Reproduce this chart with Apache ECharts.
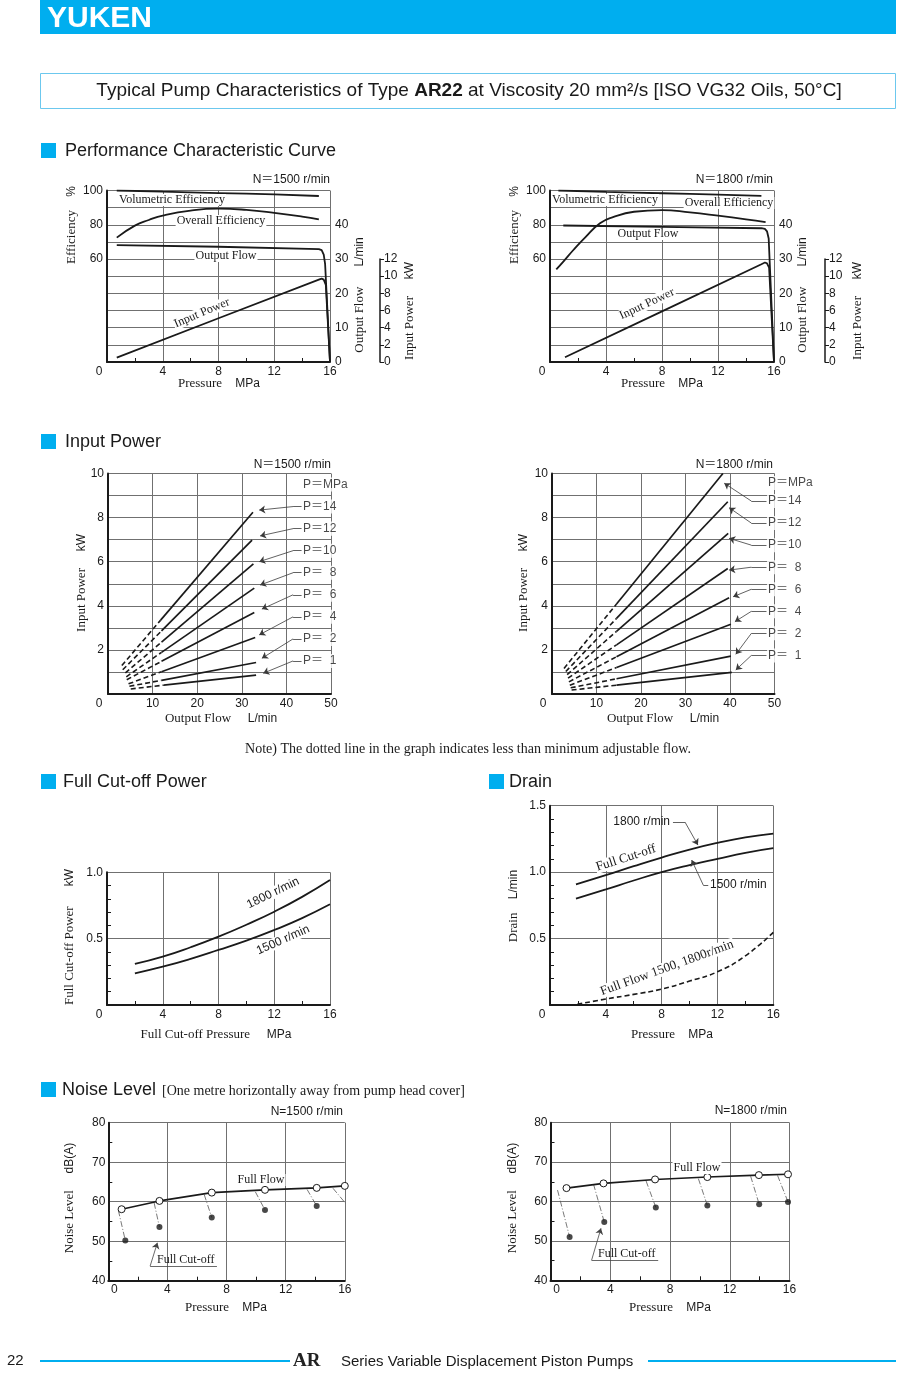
<!DOCTYPE html>
<html><head><meta charset="utf-8">
<script src="https://cdn.jsdelivr.net/npm/echarts@6/dist/echarts.min.js"></script>
<style>html,body{margin:0;padding:0;background:#fff}#c{width:900px;height:1379px}</style>
</head><body><div id="c"></div>
<script>
// ===================== DATA =====================
// Performance characteristic curves: [pressure MPa, value]
const volEff1500 = [[0.7,100],[4,99.3],[8,98.5],[12,97.7],[15.2,96.8]];
const ovEff1500  = [[0.7,72.5],[2,79.5],[3,82.8],[4,85.4],[6,88.3],[8,89.4],[10,88.7],[12,87],[14,84.8],[15.2,83.1]];
const flow1500   = [[0.7,34.1],[8,33.6],[15.2,32.9],[15.4,32.6],[15.55,31.3],[15.65,28.5],[16,0]];
const power1500  = [[0.7,0.5],[8,5.1],[15.2,9.6],[15.4,9.72],[15.55,9.6],[15.7,9.0],[16,0]];
const volEff1800 = [[0.6,100],[4,99.2],[8,98.4],[12,97.6],[15.1,96.9]];
const ovEff1800  = [[0.45,54],[1,59],[1.67,65.3],[2.5,72.5],[3.57,80.9],[4.5,84.5],[6,87.6],[8,88.6],[10,87.2],[12,85.3],[14,83.2],[15.4,81.6]];
const flow1800   = [[0.95,39.8],[8,39.4],[15.1,39.0],[15.35,38.8],[15.5,38.1],[15.62,36],[16,0]];
const power1800  = [[1.07,0.55],[8,5.9],[15.1,11.4],[15.35,11.6],[15.5,11.5],[15.65,11.0],[16,0]];

// Input power vs output flow, one line per pressure: [L/min, kW]
const ipPressureLabels = ['P\uFF1D14','P\uFF1D12','P\uFF1D10','P\uFF1D\u20078','P\uFF1D\u20076','P\uFF1D\u20074','P\uFF1D\u20072','P\uFF1D\u20071'];
const ip1500Start = [[3.1,1.29],[3.3,1.10],[3.9,0.96],[4.1,0.78],[4.2,0.65],[4.6,0.46],[4.8,0.35],[5.1,0.23]];
const ip1500Break = [[11.8,3.35],[12,2.86],[12,2.35],[12,1.89],[12,1.48],[12,1.01],[12,0.62],[12.5,0.40]];
const ip1500End   = [[32.5,8.24],[32.3,6.98],[32.6,5.9],[32.8,4.8],[32.8,3.7],[33,2.56],[33.2,1.43],[33.2,0.86]];
const ip1500LabelY = [8.5,7.5,6.5,5.5,4.5,3.5,2.5,1.5];
const ip1500Tips   = [[33.9,8.34],[34.1,7.17],[33.9,6.0],[34.1,4.94],[34.5,3.85],[33.9,2.68],[34.5,1.62],[34.8,0.94]];
const ip1800Start = [[2.7,1.16],[3.1,1.02],[3.4,0.88],[3.6,0.72],[3.8,0.55],[4.0,0.40],[4.2,0.28],[4.4,0.18]];
const ip1800Break = [[14.5,4.08],[14.5,3.43],[14.5,2.84],[14.5,2.23],[14.5,1.69],[14.5,1.20],[14.5,0.69],[14.5,0.40]];
const ip1800End   = [[38.4,10.0],[39.5,8.72],[39.6,7.28],[39.5,5.69],[39.8,4.37],[40.2,3.16],[40.2,1.72],[40.4,0.98]];
const ip1800LabelY = [8.75,7.75,6.75,5.75,4.75,3.75,2.75,1.75];
const ip1800Tips   = [[38.7,9.56],[39.8,8.45],[39.8,7.06],[39.8,5.62],[40.7,4.41],[41.1,3.28],[41.3,1.8],[41.3,1.09]];

// Full cut-off power: [MPa, kW]
const cutoff1800 = [[2,0.309],[4,0.364],[6,0.435],[8,0.515],[10,0.605],[12,0.703],[14,0.815],[16,0.942]];
const cutoff1500 = [[2,0.239],[4,0.289],[6,0.348],[8,0.415],[10,0.485],[12,0.565],[14,0.655],[16,0.759]];

// Drain: [MPa, L/min]
const drain1800 = [[1.86,0.908],[4,0.977],[6,1.045],[8,1.11],[10,1.17],[12,1.22],[14,1.262],[16,1.29]];
const drain1500 = [[1.86,0.80],[4,0.87],[6,0.937],[8,1.0],[10,1.053],[12,1.10],[14,1.145],[16,1.18]];
const drainFullFlow = [[1.96,0.005],[4,0.045],[6,0.08],[8,0.12],[10,0.18],[12,0.25],[14,0.37],[16,0.547]];

// Noise level: [MPa, dB(A)]
const noise1500Full = [[0.9,58.1],[3.46,60.2],[7.0,62.3],[10.6,63.0],[14.1,63.5],[16,64.0]];
const noise1500Cut  = [[1.15,50.2],[3.46,53.6],[7.0,56.0],[10.6,57.9],[14.1,58.9],[16.05,59.6]];
const noise1500LeaderFrom = [[0.68,57.8],[3.1,59.7],[6.49,61.8],[9.95,62.5],[13.45,63.1],[15.2,63.4]];
const noise1800Full = [[1.07,63.4],[3.55,64.6],[7.0,65.6],[10.5,66.2],[13.95,66.7],[15.9,66.9]];
const noise1800Cut  = [[1.28,51.0],[3.6,54.8],[7.05,58.5],[10.5,59.0],[13.97,59.3],[15.9,59.9]];
const noise1800LeaderFrom = [[0.47,62.9],[2.88,64.4],[6.4,65.2],[9.9,65.8],[13.4,66.4],[15.2,66.6]];

// ===================== STYLE =====================
const SANS = '"Liberation Sans", Arial, "Noto Sans CJK JP", sans-serif';
const SERIF = '"Liberation Serif", "Times New Roman", serif';
const INK = '#1a1a1a';
const GRIDC = '#707070';
const CYAN = '#00AEEF';
const TICKFS = 12;

const grids = [
  {left:107, top:190.5, width:223, height:171.5},   // 0 perf 1500
  {left:550, top:190.5, width:224, height:171.5},   // 1 perf 1800
  {left:379, top:259, width:1, height:103},         // 2 power scale 1500
  {left:824, top:259, width:1, height:103},         // 3 power scale 1800
  {left:108, top:473.5, width:223, height:220.5},   // 4 input power 1500
  {left:552, top:473.5, width:222.5, height:220.5}, // 5 input power 1800
  {left:107, top:872.3, width:223, height:132.7},   // 6 full cut-off power
  {left:550, top:805.7, width:223.3, height:199.3}, // 7 drain
  {left:108.3, top:1122.7, width:236.5, height:158},// 8 noise 1500
  {left:550.5, top:1122.7, width:239, height:157.6} // 9 noise 1800
].map(g => Object.assign({containLabel:false, outerBoundsMode:'none'}, g));

function xAx(grid, min, max, interval, o={}) {
  return {type:'value', gridIndex:grid, min, max, interval,
    axisLine:{show:true, onZero:false, lineStyle:{color:INK, width:2}},
    axisTick:{show:false, inside:true},
    minorTick:{show:!!o.minor, splitNumber:o.minor||2, length:4, lineStyle:{color:INK, width:1}},
    splitLine:{show:true, lineStyle:{color:GRIDC, width:1}},
    minorSplitLine:{show:false},
    axisLabel:{margin:o.margin==null?5:o.margin, fontSize:TICKFS, fontFamily:SANS, color:INK,
      showMinLabel:true, showMaxLabel:true, hideOverlap:false,
      formatter: v => v === 0 ? '{z|0}' : String(v),
      rich:{z:{fontSize:TICKFS, fontFamily:SANS, color:INK, padding:o.zeroPad||[0,16,0,0]}}}};
}
function hiddenX(grid){ return {type:'value', gridIndex:grid, min:0, max:1, show:false}; }
function yAx(grid, min, max, interval, o={}) {
  return {type:'value', gridIndex:grid, min, max, interval, position:o.pos||'left', show:o.show!==false,
    axisLine:{show:o.line!==false, onZero:false, lineStyle:{color:INK, width:o.lw||2}},
    axisTick:{show:!!o.ticks, inside:!o.ticks, length:4, lineStyle:{color:INK, width:1}},
    minorTick:{show:!!o.minor, splitNumber:o.minor||5, length:4, lineStyle:{color:INK, width:1}},
    splitLine:{show:o.split!==false, lineStyle:{color:GRIDC, width:1}},
    minorSplitLine:{show:false},
    axisLabel:{show:o.labels!==false, margin:o.margin==null?4:o.margin, fontSize:TICKFS, fontFamily:SANS, color:INK,
      showMinLabel:true, showMaxLabel:true, hideOverlap:false, formatter:o.fmt||(v=>String(v))}};
}
const effFmt = v => (v >= 60 && v % 20 === 0) ? String(v) : '';
const flowFmt = v => (v % 10 === 0 && v < 50) ? String(v) : '';
const ipFmt = v => (v > 0 && v % 2 === 0) ? String(v) : '';
const decFmt = v => v === 0 ? '' : v.toFixed(1);

const xAxis = [
  xAx(0,0,16,4,{minor:2, margin:4}), xAx(1,0,16,4,{minor:2, margin:4}),
  hiddenX(2), hiddenX(3),
  xAx(4,0,50,10,{zeroPad:[0,18,0,0], margin:4}), xAx(5,0,50,10,{zeroPad:[0,18,0,0], margin:4}),
  xAx(6,0,16,4,{minor:2, margin:4}), xAx(7,0,16,4,{minor:2, margin:4}),
  xAx(8,0,16,4,{minor:2, margin:3, zeroPad:[0,0,0,12]}), xAx(9,0,16,4,{minor:2, margin:3, zeroPad:[0,0,0,12]})
];
const yAxis = [
  yAx(0,0,100,10,{fmt:effFmt}),                                        // 0
  yAx(0,0,50,5,{pos:'right', line:false, split:false, fmt:flowFmt, margin:5}), // 1
  yAx(0,0,20,2,{show:false, split:false}),                             // 2
  yAx(1,0,100,10,{fmt:effFmt}),                                        // 3
  yAx(1,0,50,5,{pos:'right', line:false, split:false, fmt:flowFmt, margin:5}), // 4
  yAx(1,0,20,2,{show:false, split:false}),                             // 5
  yAx(2,0,12,2,{pos:'right', split:false, lw:1.5, ticks:true, margin:4}), // 6
  yAx(3,0,12,2,{pos:'right', split:false, lw:1.5, ticks:true, margin:4}), // 7
  yAx(4,0,10,1,{fmt:ipFmt}),                                           // 8
  yAx(5,0,10,1,{fmt:ipFmt}),                                           // 9
  yAx(6,0,1,0.5,{minor:5, fmt:decFmt}),                                // 10
  yAx(7,0,1.5,0.5,{minor:5, fmt:decFmt}),                              // 11
  yAx(8,40,80,10,{minor:2, margin:3}),                                 // 12
  yAx(9,40,80,10,{minor:2, margin:3})                                  // 13
];

// ===================== SERIES =====================
const series = [];
function line(xi, yi, data, o={}) {
  series.push({type:'line', xAxisIndex:xi, yAxisIndex:yi, data, symbol:'none', smooth:o.smooth||false,
    lineStyle:{color:INK, width:o.w||1.8, type:o.type||'solid'}, z:o.z||3, silent:true, animation:false});
}
function segs(xi, yi, list, arrow, o={}) {
  series.push({type:'lines', coordinateSystem:'cartesian2d', xAxisIndex:xi, yAxisIndex:yi,
    data:list.map(c => ({coords:c})), polyline:false,
    symbol: arrow ? ['none','arrow'] : ['none','none'], symbolSize: arrow ? [0, o.as||6] : 0,
    lineStyle:{color:o.color||'#3a3a3a', width:o.w||0.8, type:o.type||'solid', opacity:1, curveness:0},
    effect:{show:false}, z:o.z||4, silent:true, animation:false});
}
function labels(xi, yi, items, o={}) {
  series.push({type:'scatter', xAxisIndex:xi, yAxisIndex:yi,
    data: items.map(([x,y,t]) => ({value:[x,y], label:{formatter:t}})),
    symbolSize:1, itemStyle:{color:'rgba(0,0,0,0)'},
    label:{show:true, position:'right', distance:0, fontSize:12, fontFamily:SANS, color:INK,
      backgroundColor:'#fff', padding:[1,2,1,1]}, z:8, silent:true, animation:false});
}

// Performance
line(0,0,volEff1500,{smooth:true}); line(0,0,ovEff1500,{smooth:true});
line(0,1,flow1500); line(0,2,power1500);
line(1,3,volEff1800,{smooth:true}); line(1,3,ovEff1800,{smooth:true});
line(1,4,flow1800); line(1,5,power1800);

// Input power
function ipChart(xi, yi, st, br, en, labY, tips, labX, elbowX, mpaY) {
  for (let i = 0; i < st.length; i++) {
    line(xi, yi, [st[i], br[i]], {type:[5,3], w:1.6});
    line(xi, yi, [br[i], en[i]], {w:1.7});
  }
  segs(xi, yi, labY.map(y => [[labX, y], [elbowX, y]]), false);
  segs(xi, yi, labY.map((y, i) => [[elbowX, y], tips[i]]), true);
  labels(xi, yi, [[labX, mpaY, 'P\uFF1DMPa']].concat(labY.map((y, i) => [labX, y, ipPressureLabels[i]])));
}
ipChart(4, 8, ip1500Start, ip1500Break, ip1500End, ip1500LabelY, ip1500Tips, 43.4, 41.5, 9.5);
ipChart(5, 9, ip1800Start, ip1800Break, ip1800End, ip1800LabelY, ip1800Tips, 48.2, 44.8, 9.57);

// Full cut-off power
line(6,10,cutoff1800,{smooth:true}); line(6,10,cutoff1500,{smooth:true});

// Drain
line(7,11,drain1800,{smooth:true}); line(7,11,drain1500,{smooth:true});
line(7,11,drainFullFlow,{smooth:true, type:[5,3], w:1.6});
segs(7,11,[[[8.81,1.377],[9.67,1.377]], [[11.34,0.903],[10.98,0.903]]], false);
segs(7,11,[[[9.67,1.377],[10.6,1.204]], [[10.98,0.903],[10.15,1.091]]], true);

// Noise
function noiseChart(xi, yi, full, cut, from, under, tip) {
  segs(xi, yi, from.map((f, i) => [f, cut[i]]), false, {type:[6,2,1,2], color:'#555', w:0.8, z:3});
  series.push({type:'line', xAxisIndex:xi, yAxisIndex:yi, data:full, symbol:'circle', symbolSize:7,
    itemStyle:{color:'#fff', borderColor:INK, borderWidth:1}, lineStyle:{color:INK, width:1.6}, z:5, silent:true, animation:false});
  series.push({type:'scatter', xAxisIndex:xi, yAxisIndex:yi, data:cut, symbol:'circle', symbolSize:6,
    itemStyle:{color:INK}, z:6, silent:true, animation:false});
  segs(xi, yi, [under], false, {color:'#444'});
  segs(xi, yi, [[under[0], tip]], true, {color:'#444'});
}
noiseChart(8, 12, noise1500Full, noise1500Cut, noise1500LeaderFrom, [[2.83,43.7],[7.35,43.7]], [3.32,49.6]);
noiseChart(9, 13, noise1800Full, noise1800Cut, noise1800LeaderFrom, [[2.75,45.1],[7.21,45.1]], [3.38,53.2]);

// ===================== GRAPHIC TEXT / DECORATION =====================
const G = [];
const rect = (x,y,w,h,fill,stroke) => G.push({type:'rect', shape:{x,y,width:w,height:h}, z:90, silent:true,
  style:{fill:fill||'none', stroke:stroke||'none', lineWidth:1}});
const hline = (x1,x2,y,color,w) => G.push({type:'line', shape:{x1,y1:y,x2,y2:y}, z:90, silent:true, style:{stroke:color, lineWidth:w}});
function text(x, y, t, o={}) {
  G.push({type:'text', x, y, rotation:(o.rot||0)*Math.PI/180, z:100, silent:true,
    style:{text:t, fill:o.color||INK, fontSize:o.size||12, fontFamily:o.family||SANS, fontWeight:o.weight||'normal',
      textAlign:o.align||'left', textVerticalAlign:'middle', backgroundColor:o.bg, padding:o.pad, rich:o.rich}});
}
const TR = {a:{fontFamily:SERIF, fontSize:13, fill:INK}, g:{fontFamily:SANS, fontSize:12}, b:{fontFamily:SANS, fontSize:12, fill:INK}};
const title = (x, y, main, unit, gap, rot) => text(x, y, `{a|${main}}{g|${' '.repeat(gap)}}{b|${unit}}`, {align:'center', rot:rot||0, rich:TR});
const note = (x, y, t, o={}) => text(x, y, t, Object.assign({family:SERIF, size:12, align:'center', bg:'#fff', pad:[0,1]}, o));

// header
rect(40, 0, 856, 34, CYAN);
text(47, 19, 'YUKEN', {size:30, weight:'bold', color:'#fff'});
rect(40.5, 73.5, 855, 35, null, '#6CC8EE');
text(469, 91, '{n|Typical Pump Characteristics of Type }{b|AR22}{n| at Viscosity 20 mm\u00B2/s [ISO VG32 Oils, 50\u00B0C]}',
  {align:'center', rich:{n:{fontFamily:SANS, fontSize:19, fill:INK}, b:{fontFamily:SANS, fontSize:19, fontWeight:'bold', fill:INK}}});

// section headers
const section = (sx, sy, tx, t) => { rect(sx, sy, 15, 15, CYAN); text(tx, sy + 8, t, {size:18}); };
section(41, 143, 65, 'Performance Characteristic Curve');
section(41, 434, 65, 'Input Power');
section(41, 774, 63, 'Full Cut-off Power');
section(489, 774, 509, 'Drain');
section(41, 1082, 62, 'Noise Level');
text(162, 1091, '[One metre horizontally away from pump head cover]', {family:SERIF, size:14});

// performance 1500
text(330, 180, 'N\uFF1D1500 r/min', {align:'right', size:12});
note(172, 200, 'Volumetric Efficiency');
note(221, 221, 'Overall Efficiency');
note(226, 256, 'Output Flow');
note(202, 313, 'Input Power', {rot:23});
title(72, 225, 'Efficiency', '%', 4, 90);
title(360, 295, 'Output Flow', 'L/min', 6, 90);
title(410, 311, 'Input Power', 'kW', 5, 90);
title(219, 384, 'Pressure', 'MPa', 4);
// performance 1800
text(773, 180, 'N\uFF1D1800 r/min', {align:'right', size:12});
note(605, 200, 'Volumetric Efficiency');
note(729, 203, 'Overall Efficiency');
note(648, 234, 'Output Flow');
note(647, 304, 'Input Power', {rot:25});
title(515, 225, 'Efficiency', '%', 4, 90);
title(803, 295, 'Output Flow', 'L/min', 6, 90);
title(858, 311, 'Input Power', 'kW', 5, 90);
title(662, 384, 'Pressure', 'MPa', 4);

// input power
text(331, 465, 'N\uFF1D1500 r/min', {align:'right', size:12});
text(773, 465, 'N\uFF1D1800 r/min', {align:'right', size:12});
title(82, 583, 'Input Power', 'kW', 5, 90);
title(524, 583, 'Input Power', 'kW', 5, 90);
title(221, 719, 'Output Flow', 'L/min', 5);
title(663, 719, 'Output Flow', 'L/min', 5);
text(468, 749, 'Note) The dotted line in the graph indicates less than minimum adjustable flow.', {family:SERIF, size:14, align:'center'});

// full cut-off power
title(70, 937, 'Full Cut-off Power', 'kW', 6, 90);
title(216, 1035, 'Full Cut-off Pressure', 'MPa', 5);
text(273, 893, '1800 r/min', {align:'center', rot:26, bg:'#fff', pad:[0,1]});
text(283, 940, '1500 r/min', {align:'center', rot:24, bg:'#fff', pad:[0,1]});

// drain
title(514, 906, 'Drain', 'L/min', 4, 90);
title(672, 1035, 'Pressure', 'MPa', 4);
text(670, 822, '1800 r/min', {align:'right'});
text(710, 885, '1500 r/min');
note(626, 858, 'Full Cut-off', {rot:18, size:13});
note(667, 968, 'Full Flow 1500, 1800r/min', {rot:20, size:13});

// noise
text(343, 1112, 'N=1500 r/min', {align:'right', size:12});
text(787, 1111, 'N=1800 r/min', {align:'right', size:12});
title(70, 1198, 'Noise Level', 'dB(A)', 5, 90);
title(513, 1198, 'Noise Level', 'dB(A)', 5, 90);
title(226, 1308, 'Pressure', 'MPa', 4);
title(670, 1308, 'Pressure', 'MPa', 4);
note(261, 1180, 'Full Flow');
note(697, 1168, 'Full Flow');
text(157, 1260, 'Full Cut-off', {family:SERIF, size:12});
text(598, 1254, 'Full Cut-off', {family:SERIF, size:12});

// footer
text(7, 1361, '22', {size:15});
hline(40, 290, 1361, CYAN, 2);
hline(648, 896, 1361, CYAN, 2);
text(293, 1361, 'AR', {family:SERIF, size:19, weight:'bold', color:'#222'});
text(341, 1362, 'Series Variable Displacement Piston Pumps', {size:15});

// ===================== RENDER =====================
const chart = echarts.init(document.getElementById('c'), null, {renderer:'canvas'});
chart.setOption({
  animation:false, backgroundColor:'#fff',
  textStyle:{fontFamily:SANS},
  grid:grids, xAxis, yAxis, series, graphic:{elements:G}
});
</script></body></html>
